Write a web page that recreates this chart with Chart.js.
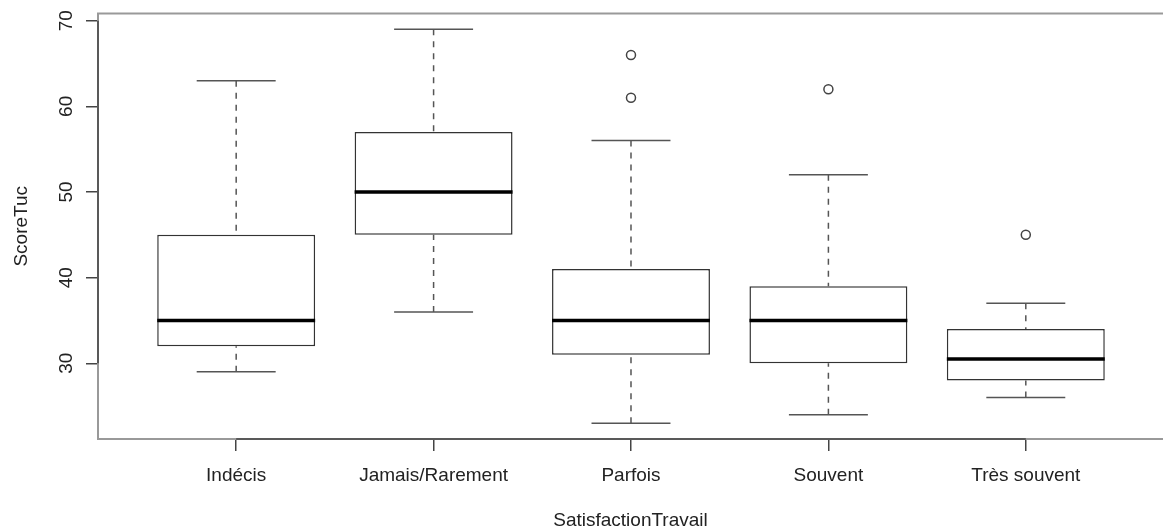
<!DOCTYPE html>
<html>
<head>
<meta charset="utf-8">
<script src="https://cdn.jsdelivr.net/npm/chart.js@4/dist/chart.umd.min.js"></script>
<style>
  html, body { margin: 0; padding: 0; background: #fff; overflow: hidden; }
  #wrap { width: 1163px; height: 529px; position: relative; }
  canvas { display: block; }
</style>
</head>
<body>
<div id="wrap"><canvas id="myChart"></canvas></div>
<script>
// boxplot stats
const categories = ["Indécis", "Jamais/Rarement", "Parfois", "Souvent", "Très souvent"];
const whiskerLow = [29, 36, 23, 24, 26];
const q1 = [32, 45, 31, 30, 28];
const median = [35, 50, 35, 35, 30.5];
const q3 = [45, 57, 41, 39, 34];
const whiskerHigh = [63, 69, 56, 52, 37];
const outlierGroup = [3, 3, 4, 5];
const outlierValue = [61, 66, 62, 45];
const yTicks = [30, 40, 50, 60, 70];

const FONT = { family: "'Liberation Sans', Arial, sans-serif", size: 19, lineHeight: 1 };
const TEXT = "#222";

const boxes = categories.map((c, i) => ({ x: i + 1, y: [q1[i], q3[i]] }));
const outliers = outlierGroup.map((g, i) => ({ x: g, y: outlierValue[i] }));

// whiskers, caps, medians and the R style frame
const boxplotExtras = {
  id: "boxplotExtras",
  beforeDatasetsDraw(chart) {
    const ctx = chart.ctx;
    const xs = chart.scales.x;
    const ys = chart.scales.y;
    ctx.save();
    for (let i = 0; i < categories.length; i++) {
      const cx = xs.getPixelForValue(i + 1);
      const capL = xs.getPixelForValue(i + 1 - 0.2);
      const capR = xs.getPixelForValue(i + 1 + 0.2);
      ctx.strokeStyle = "#555";
      ctx.lineWidth = 1.5;
      ctx.setLineDash([6, 6]);
      ctx.beginPath();
      ctx.moveTo(cx, ys.getPixelForValue(whiskerHigh[i]));
      ctx.lineTo(cx, ys.getPixelForValue(q3[i]));
      ctx.moveTo(cx, ys.getPixelForValue(whiskerLow[i]));
      ctx.lineTo(cx, ys.getPixelForValue(q1[i]));
      ctx.stroke();
      ctx.setLineDash([]);
      ctx.beginPath();
      [whiskerHigh[i], whiskerLow[i]].forEach((v) => {
        const py = ys.getPixelForValue(v);
        ctx.moveTo(capL, py);
        ctx.lineTo(capR, py);
      });
      ctx.stroke();
    }
    ctx.restore();
  },
  afterDatasetsDraw(chart) {
    const ctx = chart.ctx;
    const xs = chart.scales.x;
    const ys = chart.scales.y;
    const a = chart.chartArea;
    ctx.save();
    ctx.strokeStyle = "#000";
    ctx.lineWidth = 3.5;
    ctx.beginPath();
    for (let i = 0; i < categories.length; i++) {
      const py = ys.getPixelForValue(median[i]);
      ctx.moveTo(xs.getPixelForValue(i + 1 - 0.4), py);
      ctx.lineTo(xs.getPixelForValue(i + 1 + 0.4), py);
    }
    ctx.stroke();

    // plot frame
    ctx.strokeStyle = "#999";
    ctx.lineWidth = 2;
    ctx.beginPath();
    ctx.moveTo(a.right + 2, a.top);
    ctx.lineTo(a.left, a.top);
    ctx.lineTo(a.left, a.bottom);
    ctx.lineTo(a.right + 2, a.bottom);
    ctx.stroke();

    // axis lines spanning the ticks
    ctx.strokeStyle = "#444";
    ctx.lineWidth = 1.5;
    ctx.beginPath();
    ctx.moveTo(a.left, ys.getPixelForValue(yTicks[0]));
    ctx.lineTo(a.left, ys.getPixelForValue(yTicks[yTicks.length - 1]));
    ctx.moveTo(xs.getPixelForValue(1), a.bottom);
    ctx.lineTo(xs.getPixelForValue(categories.length), a.bottom);
    ctx.stroke();
    ctx.restore();
  },
};

const ctx = document.getElementById("myChart");
new Chart(ctx, {
  type: "bar",
  data: {
    datasets: [
      {
        label: "boxes",
        data: boxes,
        backgroundColor: "#fff",
        borderColor: "#333",
        borderWidth: 1.5,
        borderSkipped: false,
        categoryPercentage: 1,
        barPercentage: 0.8,
      },
      {
        type: "scatter",
        label: "outliers",
        data: outliers,
        pointStyle: "circle",
        pointRadius: 4.5,
        pointBorderWidth: 1.5,
        pointBorderColor: "#444",
        pointBackgroundColor: "#fff",
      },
    ],
  },
  options: {
    responsive: true,
    maintainAspectRatio: false,
    animation: false,
    layout: { autoPadding: false, padding: { top: 13.5, left: 0, right: 0, bottom: 0 } },
    plugins: { legend: { display: false }, tooltip: { enabled: false } },
    scales: {
      x: {
        type: "linear",
        min: 0.3,
        max: 5.695,
        offset: false,
        border: { display: false },
        grid: { offset: false, drawOnChartArea: false, drawTicks: true, tickLength: 12, tickColor: "#444", lineWidth: 1.5 },
        afterBuildTicks: (scale) => {
          scale.ticks = categories.map((c, i) => ({ value: i + 1 }));
        },
        afterFit: (scale) => {
          scale.height = 90;
          scale.paddingLeft = 0;
          scale.paddingRight = 0;
        },
        ticks: {
          autoSkip: false,
          maxRotation: 0,
          padding: 15,
          color: TEXT,
          font: FONT,
          callback: (v) => categories[v - 1],
        },
        title: {
          display: true,
          text: "SatisfactionTravail",
          color: TEXT,
          font: FONT,
          padding: { top: -1, bottom: -1 },
        },
      },
      y: {
        min: 21.16,
        max: 70.84,
        border: { display: false },
        grid: { drawOnChartArea: false, drawTicks: true, tickLength: 12, tickColor: "#444", lineWidth: 1.5 },
        afterBuildTicks: (scale) => {
          scale.ticks = yTicks.map((v) => ({ value: v }));
        },
        afterFit: (scale) => {
          scale.width = 98;
          scale.paddingTop = 0;
          scale.paddingBottom = 0;
        },
        ticks: {
          minRotation: 90,
          maxRotation: 90,
          crossAlign: "center",
          padding: 9,
          color: TEXT,
          font: FONT,
        },
        title: {
          display: true,
          text: "ScoreTuc",
          color: TEXT,
          font: FONT,
          padding: { top: 12, bottom: 12 },
        },
      },
    },
  },
  plugins: [boxplotExtras],
});
</script>
</body>
</html>
